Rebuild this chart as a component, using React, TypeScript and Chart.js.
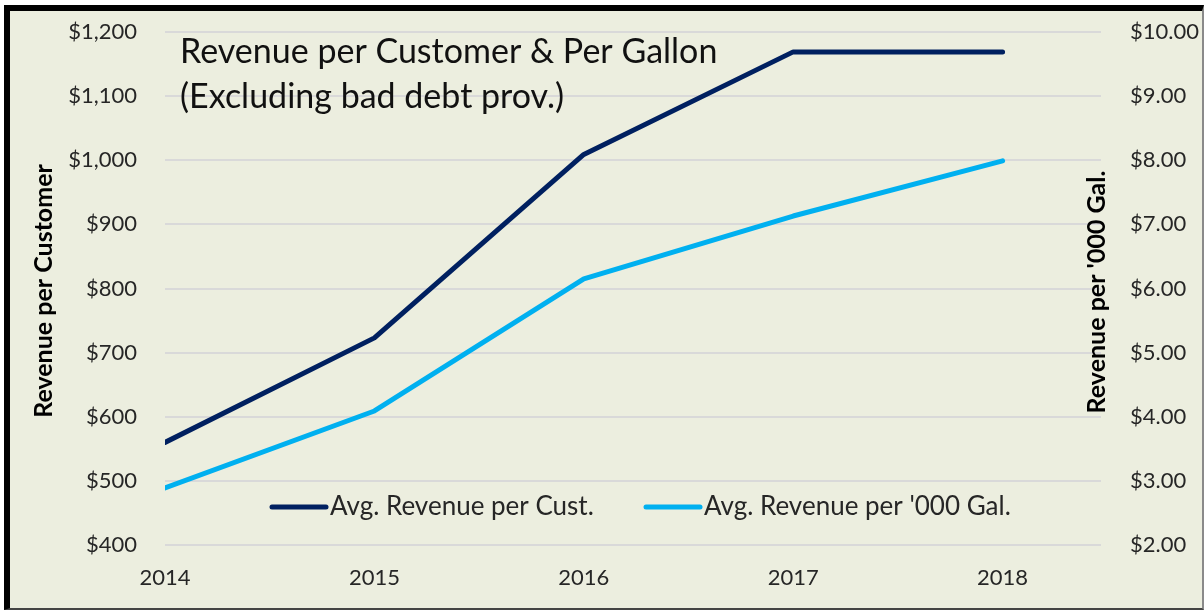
import React, { useEffect, useRef } from "react";
import { Chart, registerables } from "chart.js";

Chart.register(...registerables);

const years = [2014, 2015, 2016, 2017, 2018];
const revenuePerCustomer = [560, 723, 1009, 1169, 1169];
const revenuePerThousandGal = [2.89, 4.09, 6.15, 7.13, 7.99];
const seriesNames = ["Avg. Revenue per Cust.", "Avg. Revenue per '000 Gal."];
const titleLines = ["Revenue per Customer & Per Gallon", "(Excluding bad debt prov.)"];
const leftAxisTitle = "Revenue per Customer";
const rightAxisTitle = "Revenue per '000 Gal.";

const DARK = "#002060";
const LIGHT = "#00B0F0";
const FONT = "Lato, 'Open Sans', sans-serif";
const TEXT = "#262626";

const overlayPlugin = {
  id: "overlay",
  afterDraw(chart: any) {
    const ctx = chart.ctx;
    ctx.save();
    // title
    ctx.fillStyle = "#111";
    ctx.font = `34px ${FONT}`;
    ctx.textAlign = "left";
    ctx.textBaseline = "middle";
    ctx.fillText(titleLines[0], 180, 52);
    ctx.fillText(titleLines[1], 180, 97);
    // axis titles
    ctx.font = `bold 25px ${FONT}`;
    ctx.fillStyle = "#000";
    ctx.textAlign = "center";
    ctx.save();
    ctx.translate(44, 291);
    ctx.rotate(-Math.PI / 2);
    ctx.fillText(leftAxisTitle, 0, 0);
    ctx.restore();
    ctx.save();
    ctx.translate(1097, 292);
    ctx.rotate(-Math.PI / 2);
    ctx.fillText(rightAxisTitle, 0, 0);
    ctx.restore();
    // legend
    const ly = 507;
    const items = [
      { x: 272, color: DARK, text: seriesNames[0] },
      { x: 646, color: LIGHT, text: seriesNames[1] },
    ];
    ctx.font = `26px ${FONT}`;
    ctx.textAlign = "left";
    ctx.fillStyle = TEXT;
    for (const it of items) {
      ctx.strokeStyle = it.color;
      ctx.lineWidth = 5;
      ctx.lineCap = "round";
      ctx.beginPath();
      ctx.moveTo(it.x, ly);
      ctx.lineTo(it.x + 54, ly);
      ctx.stroke();
      ctx.fillText(it.text, it.x + 58, ly);
    }
    ctx.restore();
  },
};

export default function App() {
  const ref = useRef<HTMLCanvasElement>(null);
  useEffect(() => {
    document.body.style.margin = "0";
    const chart = new Chart(ref.current!, {
      type: "line",
      data: {
        datasets: [
          {
            label: seriesNames[0],
            data: years.map((y, i) => ({ x: y, y: revenuePerCustomer[i] })),
            borderColor: DARK,
            borderWidth: 5,
            pointRadius: 0,
            yAxisID: "y",
            borderCapStyle: "round",
            borderJoinStyle: "round",
          },
          {
            label: seriesNames[1],
            data: years.map((y, i) => ({ x: y, y: revenuePerThousandGal[i] })),
            borderColor: LIGHT,
            borderWidth: 5,
            pointRadius: 0,
            yAxisID: "y1",
            borderCapStyle: "round",
            borderJoinStyle: "round",
          },
        ],
      },
      options: {
        animation: false,
        responsive: false,
        layout: { padding: { top: 32, left: 0, right: 0, bottom: 0 } },
        plugins: { legend: { display: false }, tooltip: { enabled: false } },
        scales: {
          x: {
            type: "linear",
            min: 2014,
            max: 2018.47,
            grid: { display: false },
            border: { display: false },
            afterFit: (s: any) => { s.height = 66; },
            afterBuildTicks: (s: any) => { s.ticks = years.map((v) => ({ value: v })); },
            ticks: {
              stepSize: 1,
              padding: 12,
              color: TEXT,
              maxRotation: 0,
              autoSkip: false,
              font: { family: FONT, size: 22 },
              callback: (v: any) => String(v),
            },
          },
          y: {
            position: "left",
            min: 400,
            max: 1200,
            afterFit: (s: any) => { s.width = 165; },
            grid: { color: "#D9D9D9", lineWidth: 2, drawTicks: true, tickLength: 28, tickColor: "rgba(0,0,0,0)" },
            border: { display: false },
            ticks: {
              stepSize: 100,
              padding: 0,
              color: TEXT,
              font: { family: FONT, size: 22 },
              callback: (v: any) => "$" + Number(v).toLocaleString("en-US"),
            },
          },
          y1: {
            position: "right",
            min: 2,
            max: 10,
            afterFit: (s: any) => { s.width = 103; },
            grid: { display: false, drawTicks: true, tickLength: 29, tickColor: "rgba(0,0,0,0)" },
            border: { display: false },
            ticks: {
              stepSize: 1,
              padding: 0,
              color: TEXT,
              font: { family: FONT, size: 22 },
              callback: (v: any) => "$" + Number(v).toFixed(2),
            },
          },
        },
      },
      plugins: [overlayPlugin],
    });
    return () => chart.destroy();
  }, []);

  return (
    <div style={{ position: "relative", width: 1204, height: 611, background: "#fff", overflow: "hidden" }}>
      <div
        style={{
          position: "absolute",
          left: 4,
          top: 5,
          width: 1200,
          height: 605,
          boxSizing: "border-box",
          background: "#ECEEDF",
          borderTop: "6px solid #000",
          borderLeft: "6px solid #000",
          borderRight: "2px solid #8a8a8a",
          borderBottom: "2px solid #444",
        }}
      />
      <canvas ref={ref} width={1204} height={611} style={{ position: "absolute", left: 0, top: 0 }} />
    </div>
  );
}
